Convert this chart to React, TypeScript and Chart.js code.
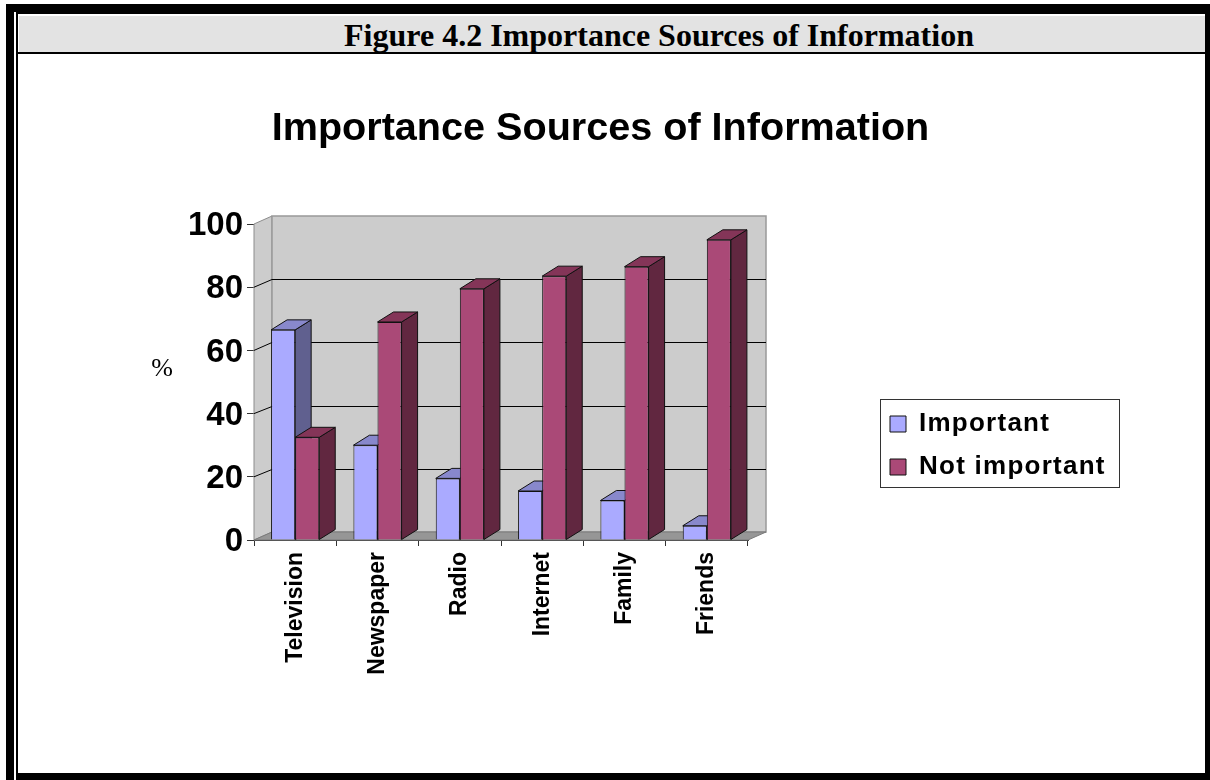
import { useEffect, useRef } from "react";
import { Chart, registerables } from "chart.js";

Chart.register(...registerables);

const categories = ["Television", "Newspaper", "Radio", "Internet", "Family", "Friends"];
const important = [66.5, 30, 19.5, 15.5, 12.5, 4.5];
const notImportant = [32.5, 69, 79.5, 83.5, 86.5, 95];
const yTicks = [0, 20, 40, 60, 80, 100];

const WALL_DX = 18;
const WALL_DY = 8;
const BAR_DX = 16;
const BAR_DY = 10;
const FONT_SANS = '"Liberation Sans", Arial, sans-serif';
const FONT_SERIF = '"Liberation Serif", "Times New Roman", serif';

function polygon(ctx: CanvasRenderingContext2D, pts: number[][], fill: string, stroke: string, width = 1) {
  ctx.beginPath();
  pts.forEach(([x, y], i) => (i ? ctx.lineTo(x, y) : ctx.moveTo(x, y)));
  ctx.closePath();
  ctx.fillStyle = fill;
  ctx.fill();
  ctx.strokeStyle = stroke;
  ctx.lineWidth = width;
  ctx.stroke();
}

// Back wall, side wall, floor, gridlines and the bars' depth faces.
const wallsPlugin = {
  id: "walls",
  afterLayout(chart: any) {
    const { legend, titleBlock, ctx, scales } = chart;
    if (legend) {
      const h = legend.height;
      legend.left = 873;
      legend.top = 394;
      legend.right = 1119;
      legend.bottom = 394 + h;
      if (!legend.spaced) {
        // Legend text is set slightly wider than the font's natural spacing.
        legend.spaced = true;
        const draw = legend.draw;
        legend.draw = function (...args: any[]) {
          ctx.save();
          ctx.letterSpacing = "1.25px";
          draw.apply(this, args);
          ctx.restore();
        };
      }
    }
    if (titleBlock) {
      titleBlock.left = 0;
      titleBlock.right = 1201;
    }
    // The value labels sit a little below their tick marks.
    const y = scales.y;
    if (y && !y.nudged) {
      y.nudged = true;
      const compute = y._computeLabelItems.bind(y);
      y._computeLabelItems = (area: any) =>
        compute(area).map((item: any) => ({
          ...item,
          options: { ...item.options, translation: [item.options.translation[0], item.options.translation[1] + 2] },
        }));
    }
  },
  beforeDatasetsDraw(chart: any) {
    const { ctx, chartArea: a, scales } = chart;
    const y = scales.y;
    const bottom = y.getPixelForValue(0);
    const top = y.getPixelForValue(100);
    ctx.save();
    polygon(ctx, [[a.left, top], [a.left + WALL_DX, top - WALL_DY], [a.left + WALL_DX, bottom - WALL_DY], [a.left, bottom]], "#cccccc", "#8c8c8c");
    polygon(ctx, [[a.left + WALL_DX, top - WALL_DY], [a.right + WALL_DX, top - WALL_DY], [a.right + WALL_DX, bottom - WALL_DY], [a.left + WALL_DX, bottom - WALL_DY]], "#cccccc", "#999999", 1.5);
    polygon(ctx, [[a.left, bottom], [a.left + WALL_DX, bottom - WALL_DY], [a.right + WALL_DX, bottom - WALL_DY], [a.right, bottom]], "#969696", "#7a7a7a");
    ctx.strokeStyle = "#000000";
    ctx.lineWidth = 1;
    for (const v of yTicks) {
      if (v === 0 || v === 100) continue;
      const py = y.getPixelForValue(v);
      const back = Math.round(py - WALL_DY) + 0.5;
      ctx.beginPath();
      ctx.moveTo(a.left, py);
      ctx.lineTo(a.left + WALL_DX, back);
      ctx.lineTo(a.right + WALL_DX, back);
      ctx.stroke();
    }
    // Depth faces go under every front face, first series first.
    chart.data.datasets.forEach((ds: any, i: number) => {
      for (const bar of chart.getDatasetMeta(i).data as any[]) {
        const half = bar.width / 2;
        const l = bar.x - half;
        const r = bar.x + half;
        const t = bar.y;
        const b = bar.base;
        polygon(ctx, [[r, t], [r + BAR_DX, t - BAR_DY], [r + BAR_DX, b - BAR_DY], [r, b]], ds.sideColor, "#111111");
        polygon(ctx, [[l, t], [l + BAR_DX, t - BAR_DY], [r + BAR_DX, t - BAR_DY], [r, t]], ds.topColor, "#111111");
      }
    });
    ctx.restore();
  },
  afterDraw(chart: any) {
    const { ctx } = chart;
    ctx.save();
    ctx.fillStyle = "#000";
    ctx.font = `26px ${FONT_SERIF}`;
    ctx.textAlign = "center";
    ctx.textBaseline = "middle";
    ctx.fillText("%", 162, 369);
    ctx.restore();
  },
  beforeDraw(chart: any) {
    const { ctx } = chart;
    ctx.save();
    ctx.fillStyle = "#fff";
    ctx.strokeStyle = "#333";
    ctx.lineWidth = 1;
    ctx.fillRect(880.5, 399.5, 239, 88);
    ctx.strokeRect(880.5, 399.5, 239, 88);
    ctx.restore();
  },
};

const block = (left: number, top: number, width: number, height: number, background = "#000") => ({
  position: "absolute" as const,
  left,
  top,
  width,
  height,
  background,
});

export default function App() {
  const ref = useRef<HTMLCanvasElement>(null);

  useEffect(() => {
    document.body.style.margin = "0";
    document.body.style.background = "#fff";
    const chart = new Chart(ref.current as HTMLCanvasElement, {
      type: "bar",
      data: {
        labels: categories,
        datasets: [
          {
            label: "Important",
            data: important,
            backgroundColor: "#aaaaff",
            borderColor: "#111111",
            borderWidth: 1,
            sideColor: "#60608f",
            topColor: "#8888cc",
          } as any,
          {
            label: "Not important",
            data: notImportant,
            backgroundColor: "#aa4977",
            borderColor: "#111111",
            borderWidth: 1,
            sideColor: "#612740",
            topColor: "#843558",
          } as any,
        ],
      },
      options: {
        responsive: false,
        animation: false,
        layout: { padding: { left: 0, right: 462, top: 0, bottom: 100 } },
        datasets: { bar: { categoryPercentage: 0.585, barPercentage: 1 } },
        scales: {
          x: {
            afterFit: (s: any) => { s.height = 140; },
            grid: { drawOnChartArea: false, color: "#333", tickLength: 6, offset: true },
            border: { color: "#333" },
            ticks: {
              color: "#000",
              maxRotation: 90,
              minRotation: 90,
              padding: 6,
              font: { family: FONT_SANS, size: 23, weight: "bold" },
            },
          },
          y: {
            min: 0,
            max: 100,
            afterFit: (s: any) => { s.width = 254; },
            afterBuildTicks: (s: any) => { s.ticks = yTicks.map((value) => ({ value })); },
            grid: { drawOnChartArea: false, color: "#333", tickLength: 7 },
            border: { color: "#333" },
            ticks: {
              color: "#000",
              padding: 4,
              font: { family: FONT_SANS, size: 33, weight: "bold" },
            },
          },
        },
        plugins: {
          tooltip: { enabled: false },
          title: {
            display: true,
            text: "Importance Sources of Information",
            color: "#000",
            font: { family: FONT_SANS, size: 39.6, weight: "bold" },
            padding: { top: 105, bottom: 71.5 },
          },
          legend: {
            position: "chartArea",
            align: "start",
            labels: {
              color: "#000",
              boxWidth: 16,
              boxHeight: 16,
              padding: 17,
              font: { family: FONT_SANS, size: 26, weight: "bold" },
            },
          },
        },
      } as any,
      plugins: [wallsPlugin as any],
    });
    return () => chart.destroy();
  }, []);

  return (
    <div style={{ position: "relative", width: 1210, height: 780, background: "#fff", overflow: "hidden" }}>
      <div style={block(6, 4, 1204, 8)} />
      <div style={block(16, 12, 1194, 2)} />
      <div style={block(6, 4, 8, 776)} />
      <div style={block(16, 12, 2, 768)} />
      <div style={block(1205, 12, 5, 768)} />
      <div style={block(16, 773, 1194, 7)} />
      <div
        style={{
          ...block(19, 16, 1186, 36, "#e3e3e3"),
          textAlign: "center",
          font: `bold 32px ${FONT_SERIF}`,
          lineHeight: "39px",
          color: "#000",
          paddingLeft: 94,
          boxSizing: "border-box",
        }}
      >
        Figure 4.2 Importance Sources of Information
      </div>
      <div style={block(16, 52, 1189, 2)} />
      <canvas ref={ref} width={1210} height={780} style={{ position: "absolute", left: 0, top: 0, display: "block" }} />
    </div>
  );
}
